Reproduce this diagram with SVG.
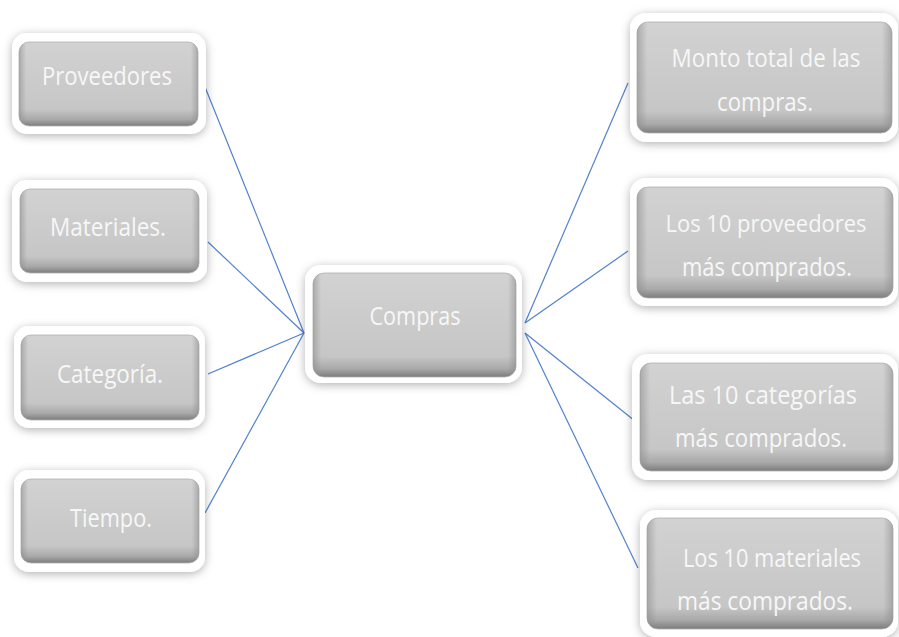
<svg xmlns="http://www.w3.org/2000/svg" width="899" height="637" viewBox="0 0 899 637">
  <defs>
    <filter id="frameShadow" x="-20%" y="-25%" width="140%" height="155%">
      <feDropShadow dx="0" dy="2" stdDeviation="5" flood-color="#000" flood-opacity="0.3"/>
    </filter>
    <linearGradient id="btnFill" x1="0" y1="0" x2="0" y2="1">
      <stop offset="0" stop-color="#d2d2d2"/>
      <stop offset="0.8" stop-color="#c6c6c6"/>
      <stop offset="0.92" stop-color="#a9a9a9"/>
      <stop offset="1" stop-color="#7c7c7c"/>
    </linearGradient>
    <linearGradient id="btnSide" x1="0" y1="0" x2="1" y2="0">
      <stop offset="0" stop-color="#8a8a8a" stop-opacity="0.55"/>
      <stop offset="0.04" stop-color="#8a8a8a" stop-opacity="0"/>
      <stop offset="0.96" stop-color="#8a8a8a" stop-opacity="0"/>
      <stop offset="1" stop-color="#8a8a8a" stop-opacity="0.55"/>
    </linearGradient>
  </defs>
  <style>
    .frame { fill: #ffffff; filter: url(#frameShadow); }
    .btn { fill: url(#btnFill); stroke: #b0b0b0; stroke-width: 0.8; }
    .side { fill: url(#btnSide); }
    .lbl { font-family: "Open Sans", "Liberation Sans", sans-serif; font-size: 26px; fill: #f7f7f7; }
    .lbl.long { font-size: 24px; }
    .conn line { stroke: #5282d0; stroke-width: 1.2; }
  </style>
  <rect width="899" height="637" fill="#ffffff"/>

  <!-- connectors -->
  <g class="conn" id="connectors">
    <line x1="205" y1="87" x2="304" y2="333"/>
    <line x1="208" y1="242" x2="304" y2="333"/>
    <line x1="208" y1="374" x2="304" y2="333"/>
    <line x1="205" y1="513" x2="304" y2="333"/>
    <line x1="525" y1="323" x2="628" y2="83"/>
    <line x1="525" y1="323" x2="628" y2="251"/>
    <line x1="525" y1="333" x2="635" y2="421"/>
    <line x1="525" y1="333" x2="638" y2="568"/>
  </g>

  <!-- left column -->
  <g id="proveedores">
    <rect class="frame" x="12" y="33" width="194" height="101" rx="15"/>
    <rect class="btn" x="19" y="42" width="179" height="84" rx="10"/>
    <rect class="side" x="19" y="42" width="179" height="84" rx="10"/>
    <text class="lbl" x="107" y="85" text-anchor="middle" textLength="130" lengthAdjust="spacingAndGlyphs">Proveedores</text>
  </g>
  <g id="materiales">
    <rect class="frame" x="12" y="180" width="195" height="102" rx="15"/>
    <rect class="btn" x="20" y="189" width="179" height="84" rx="10"/>
    <rect class="side" x="20" y="189" width="179" height="84" rx="10"/>
    <text class="lbl" x="108" y="236" text-anchor="middle" textLength="116" lengthAdjust="spacingAndGlyphs">Materiales.</text>
  </g>
  <g id="categoria">
    <rect class="frame" x="14" y="326" width="191" height="102" rx="15"/>
    <rect class="btn" x="21" y="335" width="178" height="85" rx="10"/>
    <rect class="side" x="21" y="335" width="178" height="85" rx="10"/>
    <text class="lbl" x="110" y="383" text-anchor="middle" textLength="106" lengthAdjust="spacingAndGlyphs">Categoría.</text>
  </g>
  <g id="tiempo">
    <rect class="frame" x="14" y="470" width="191" height="102" rx="15"/>
    <rect class="btn" x="21" y="479" width="178" height="84" rx="10"/>
    <rect class="side" x="21" y="479" width="178" height="84" rx="10"/>
    <text class="lbl" x="111" y="527" text-anchor="middle" textLength="82" lengthAdjust="spacingAndGlyphs">Tiempo.</text>
  </g>

  <!-- centre -->
  <g id="compras">
    <rect class="frame" x="305" y="265" width="217" height="118" rx="16"/>
    <rect class="btn" x="313" y="273" width="203" height="104" rx="11"/>
    <rect class="side" x="313" y="273" width="203" height="104" rx="11"/>
    <text class="lbl" x="415" y="325" text-anchor="middle" textLength="91" lengthAdjust="spacingAndGlyphs">Compras</text>
  </g>

  <!-- right column -->
  <g id="monto-total">
    <rect class="frame" x="630" y="13" width="268" height="129" rx="16"/>
    <rect class="btn" x="637" y="22" width="255" height="111" rx="11"/>
    <rect class="side" x="637" y="22" width="255" height="111" rx="11"/>
    <text class="lbl" x="766" y="67" text-anchor="middle" textLength="189" lengthAdjust="spacingAndGlyphs">Monto total de las</text>
    <text class="lbl" x="765" y="111" text-anchor="middle" textLength="96" lengthAdjust="spacingAndGlyphs">compras.</text>
  </g>
  <g id="top-proveedores">
    <rect class="frame" x="630" y="178" width="268" height="128" rx="16"/>
    <rect class="btn" x="637" y="187" width="256" height="111" rx="11"/>
    <rect class="side" x="637" y="187" width="256" height="111" rx="11"/>
    <text class="lbl long" x="766" y="232" text-anchor="middle" textLength="201" lengthAdjust="spacingAndGlyphs">Los 10 proveedores</text>
    <text class="lbl" x="767" y="276" text-anchor="middle" textLength="170" lengthAdjust="spacingAndGlyphs">más comprados.</text>
  </g>
  <g id="top-categorias">
    <rect class="frame" x="632" y="354" width="266" height="126" rx="16"/>
    <rect class="btn" x="640" y="363" width="253" height="108" rx="11"/>
    <rect class="side" x="640" y="363" width="253" height="108" rx="11"/>
    <text class="lbl" x="763" y="404" text-anchor="middle" textLength="188" lengthAdjust="spacingAndGlyphs">Las 10 categorías</text>
    <text class="lbl" x="761" y="447" text-anchor="middle" textLength="172" lengthAdjust="spacingAndGlyphs">más comprados.</text>
  </g>
  <g id="top-materiales">
    <rect class="frame" x="640" y="510" width="258" height="127" rx="16"/>
    <rect class="btn" x="647" y="518" width="246" height="111" rx="11"/>
    <rect class="side" x="647" y="518" width="246" height="111" rx="11"/>
    <text class="lbl" x="772" y="567" text-anchor="middle" textLength="178" lengthAdjust="spacingAndGlyphs">Los 10 materiales</text>
    <text class="lbl" x="765" y="610" text-anchor="middle" textLength="176" lengthAdjust="spacingAndGlyphs">más comprados.</text>
  </g>
</svg>
